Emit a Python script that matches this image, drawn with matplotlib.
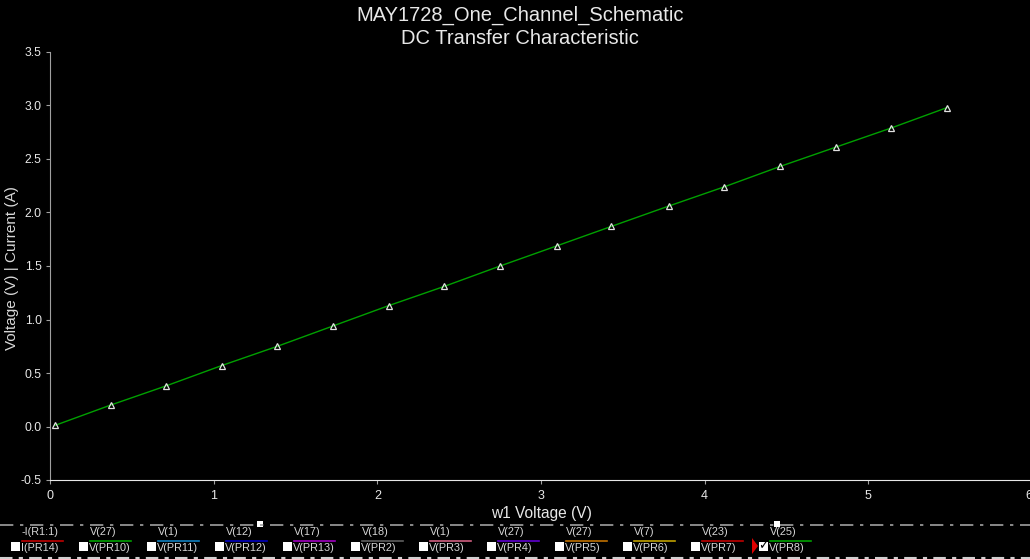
import matplotlib
matplotlib.use("Agg")
import matplotlib.pyplot as plt
from matplotlib.lines import Line2D
from matplotlib.patches import Rectangle, Polygon

plt.rcParams['font.family'] = ['Liberation Sans', 'DejaVu Sans']

# sweep data (w1 voltage vs V(25))
sweep_v = [0.03, 0.37, 0.71, 1.05, 1.39, 1.73, 2.07, 2.41, 2.75,
           3.10, 3.43, 3.78, 4.12, 4.46, 4.80, 5.14, 5.48]
out_v = [0.01, 0.20, 0.38, 0.57, 0.75, 0.94, 1.13, 1.31, 1.50,
         1.69, 1.87, 2.06, 2.24, 2.43, 2.61, 2.79, 2.98]

x_ticks = [0, 1, 2, 3, 4, 5, 6]
y_ticks = [-0.5, 0.0, 0.5, 1.0, 1.5, 2.0, 2.5, 3.0, 3.5]

# legend entries
top_labels = ['-I(R1:1)', 'V(27)', 'V(1)', 'V(12)', 'V(17)', 'V(18)',
              'V(1)', 'V(27)', 'V(27)', 'V(7)', 'V(23)', 'V(25)']
bottom_labels = ['I(PR14)', 'V(PR10)', 'V(PR11)', 'V(PR12)', 'V(PR13)', 'V(PR2)',
                 'V(PR3)', 'V(PR4)', 'V(PR5)', 'V(PR6)', 'V(PR7)', 'V(PR8)']
legend_colors = ['#c00000', '#00a000', '#1080c0', '#0000c0', '#a000c0', '#606060',
                 '#d06080', '#6000d0', '#c07000', '#c0a000', '#c00000', '#00a000']
checked = [False] * 11 + [True]

W, H = 1030, 559


def fx(px):
    return px / W


def fy(py):
    return 1 - py / H


fig = plt.figure(figsize=(W / 100, H / 100), dpi=100, facecolor='black')

# axes: x 0 at px 50, 6 at ~1032; y 3.5 at px 52, -0.5 at px 480
ax = fig.add_axes([fx(50), fy(480), (1032 - 50) / W, (480 - 52) / H])
ax.set_facecolor('black')
ax.plot(sweep_v, out_v, color='#00a000', lw=1.0, marker='^', markersize=5,
        markerfacecolor='none', markeredgecolor='#e0e0e0', markeredgewidth=0.9)
ax.set_xlim(0, 6)
ax.set_ylim(-0.5, 3.5)
ax.set_xticks(x_ticks)
ax.set_yticks(y_ticks)
ax.set_yticklabels(['%.1f' % v for v in y_ticks])

for s in ['top', 'right']:
    ax.spines[s].set_visible(False)
ax.spines['left'].set_color('#a0a0a0')
ax.spines['bottom'].set_color('#e8e8e8')
ax.tick_params(axis='y', colors='#a0a0a0', labelcolor='#e8e8e8', labelsize=8.7,
               length=3, pad=3)
ax.tick_params(axis='x', colors='#a0a0a0', labelcolor='#e8e8e8', labelsize=9,
               length=3, pad=4)
# the "6" label sits on the right edge, as in the original screenshot
xt = ax.get_xticklabels()
xt[-1].set_horizontalalignment('right')

ax.set_xlabel('w1 Voltage (V)', color='#e8e8e8', fontsize=11.2, labelpad=3)
fig.text(fx(12), fy(268), 'Voltage (V) | Current (A)', rotation=90,
         color='#d8d8d8', fontsize=11, ha='center', va='center')

fig.text(fx(520), fy(15), 'MAY1728_One_Channel_Schematic', color='#e8e8e8',
         fontsize=14.5, ha='center', va='center')
fig.text(fx(520), fy(38), 'DC Transfer Characteristic', color='#e8e8e8',
         fontsize=14.5, ha='center', va='center')

# legend strip
fig.add_artist(Line2D([0, 1], [fy(525), fy(525)], color='#a0a0a0', lw=1.2,
                      linestyle=(0, (8, 4, 2, 4))))
fig.add_artist(Line2D([0, 1], [fy(558), fy(558)], color='#d0d0d0', lw=1.5,
                      linestyle=(0, (6, 3, 2, 3))))
for sx in [260, 777]:
    fig.add_artist(Rectangle((fx(sx - 3), fy(527)), 6 / W, 6 / H,
                             facecolor='white', edgecolor='none'))

for i in range(len(top_labels)):
    cb = 11 + 68 * i
    lx = cb + 11
    fig.add_artist(Rectangle((fx(cb), fy(551)), 9 / W, 9 / H,
                             facecolor='white', edgecolor='none'))
    fig.add_artist(Line2D([fx(lx), fx(lx + 41)], [fy(541), fy(541)],
                          color=legend_colors[i], lw=1.2))
    fig.text(fx(lx), fy(532), top_labels[i], color='#d8d8d8', fontsize=7.8,
             ha='left', va='center')
    fig.text(fx(lx - 1), fy(548), bottom_labels[i], color='#d8d8d8', fontsize=7.8,
             ha='left', va='center')
    if checked[i]:
        fig.text(fx(cb + 4.5), fy(546), '\u2713', color='black', fontsize=9,
                 ha='center', va='center', family='DejaVu Sans')
        fig.add_artist(Polygon([[fx(cb - 7), fy(538)], [fx(cb - 7), fy(554)],
                                [fx(cb - 1), fy(546)]], closed=True,
                               facecolor='#e00000', edgecolor='none'))

fig.savefig('out.png', dpi=100, facecolor='black')
